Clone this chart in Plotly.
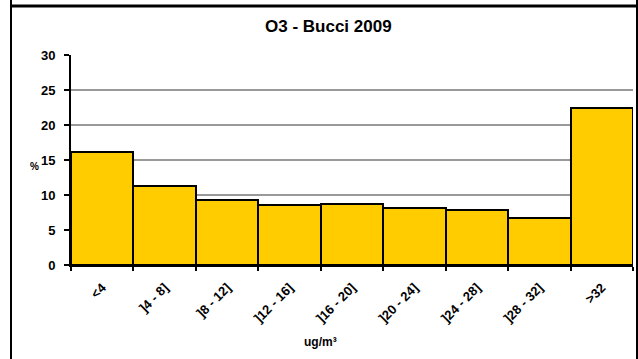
import plotly.graph_objects as go

categories = ["<4", "]4 - 8]", "]8 - 12]", "]12 - 16]", "]16 - 20]", "]20 - 24]", "]24 - 28]", "]28 - 32]", ">32"]
values = [16.2, 11.3, 9.3, 8.6, 8.7, 8.1, 7.9, 6.7, 22.4]
y_ticks = [0, 5, 10, 15, 20, 25, 30]

W, H = 638, 359
L, R, T, B = 71, 5, 55, 94
pw, ph = W - L - R, H - T - B

def px_x(x):
    return (x - L) / pw

def px_y(y):
    return (H - B - y) / ph

fig = go.Figure(go.Bar(
    x=categories, y=values,
    marker=dict(color="#FFCC00", line=dict(color="black", width=2)),
))

font = "Liberation Sans, Arial, sans-serif"
fig.update_layout(
    width=W, height=H,
    margin=dict(l=L, r=R, t=T, b=B, autoexpand=False),
    paper_bgcolor="white", plot_bgcolor="white",
    bargap=0, showlegend=False,
    font=dict(family=font, color="black"),
    xaxis=dict(
        type="category", tickson="boundaries", ticks="outside", ticklen=4,
        tickwidth=2, tickcolor="black", showline=True, linecolor="black",
        linewidth=2, tickangle=-45, showgrid=False, automargin=False,
        ticklabelstandoff=8,
        tickfont=dict(size=13, family=font, weight="bold"),
    ),
    yaxis=dict(
        range=[0, 30], tickvals=y_ticks, ticks="outside", ticklen=5,
        tickwidth=2, tickcolor="black", showline=True, linecolor="black",
        linewidth=2, showgrid=True, gridcolor="#999999", gridwidth=2,
        zeroline=False, automargin=False, ticklabelstandoff=6,
        tickfont=dict(size=13, family=font, weight="bold"),
    ),
    annotations=[
        dict(text="<b>O3 - Bucci 2009</b>", x=px_x(328), y=px_y(26), xref="paper", yref="paper",
             showarrow=False, font=dict(size=17, family=font), xanchor="center", yanchor="middle"),
        dict(text="<b>ug/m³</b>", x=px_x(320), y=px_y(342), xref="paper", yref="paper",
             showarrow=False, font=dict(size=12, family=font), xanchor="center", yanchor="middle"),
        dict(text="<b>%</b>", x=px_x(34), y=px_y(166), xref="paper", yref="paper",
             showarrow=False, font=dict(size=10, family=font), xanchor="center", yanchor="middle"),
    ],
    shapes=[
        dict(type="line", xref="paper", yref="paper", x0=px_x(11), x1=px_x(11), y0=px_y(0), y1=px_y(H + 5),
             line=dict(color="black", width=2)),
        dict(type="line", xref="paper", yref="paper", x0=px_x(637), x1=px_x(637), y0=px_y(0), y1=px_y(H + 5),
             line=dict(color="black", width=2)),
        dict(type="line", xref="paper", yref="paper", x0=px_x(11), x1=px_x(637), y0=px_y(6), y1=px_y(6),
             line=dict(color="black", width=3)),
    ],
)

fig.write_html(
    "out.html",
    config={"displayModeBar": False},
    post_script="document.body.style.margin='0';document.body.style.overflow='hidden';",
)
